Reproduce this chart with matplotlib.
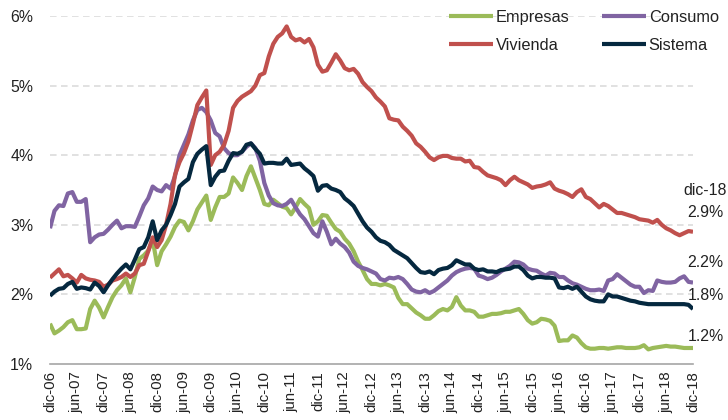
import numpy as np
import matplotlib
matplotlib.use("Agg")
import matplotlib.pyplot as plt
from matplotlib import font_manager

# ---------------- data ----------------
tick_labels = ["dic-06", "jun-07", "dic-07", "jun-08", "dic-08", "jun-09", "dic-09",
               "jun-10", "dic-10", "jun-11", "dic-11", "jun-12", "dic-12", "jun-13",
               "dic-13", "jun-14", "dic-14", "jun-15", "dic-15", "jun-16", "dic-16",
               "jun-17", "dic-17", "jun-18", "dic-18"]

empresas = [
    1.58, 1.44, 1.48, 1.53, 1.60, 1.63, 1.50, 1.50, 1.51, 1.79, 1.91, 1.81, 1.67, 1.82, 1.96, 2.06, 2.13, 2.23, 2.03, 2.25, 2.51, 2.56, 2.63, 2.78, 2.42,
    2.62, 2.72, 2.83, 2.97, 3.06, 3.04, 2.92, 3.05, 3.22, 3.32, 3.42, 3.07, 3.25, 3.40, 3.40, 3.45, 3.68, 3.60, 3.50, 3.70, 3.84, 3.67, 3.50, 3.30,
    3.28, 3.36, 3.31, 3.26, 3.24, 3.15, 3.25, 3.37, 3.30, 3.24, 3.00, 3.05, 3.14, 3.13, 3.03, 2.94, 2.90, 2.80, 2.73, 2.62, 2.47, 2.35, 2.22, 2.15,
    2.15, 2.13, 2.15, 2.13, 2.10, 1.95, 1.86, 1.86, 1.80, 1.74, 1.70, 1.65, 1.65, 1.70, 1.76, 1.79, 1.77, 1.82, 1.96, 1.84, 1.77, 1.77, 1.75, 1.68, 1.68,
    1.70, 1.72, 1.72, 1.73, 1.75, 1.75, 1.77, 1.79, 1.72, 1.63, 1.58, 1.60, 1.65, 1.64, 1.62, 1.55, 1.33, 1.34, 1.34, 1.41, 1.38, 1.30, 1.24, 1.22, 1.22, 1.23,
    1.23, 1.22, 1.23, 1.24, 1.24, 1.23, 1.23, 1.23, 1.24, 1.27, 1.21, 1.23, 1.24, 1.25, 1.26, 1.25, 1.25, 1.24, 1.23, 1.23, 1.23,
]

consumo = [
    2.95, 3.20, 3.28, 3.27, 3.45, 3.47, 3.33, 3.33, 3.37, 2.75, 2.82, 2.86, 2.87, 2.93, 3.00, 3.06, 2.95, 2.98, 2.98, 2.97, 3.12, 3.28, 3.38, 3.55, 3.50,
    3.48, 3.57, 3.52, 3.70, 4.00, 4.15, 4.30, 4.50, 4.65, 4.68, 4.62, 4.50, 4.32, 4.27, 4.10, 4.03, 4.00, 4.00, 4.05, 4.12, 4.17, 4.10, 3.92, 3.60,
    3.42, 3.31, 3.28, 3.27, 3.30, 3.36, 3.25, 3.15, 3.08, 2.98, 2.88, 2.83, 3.05, 2.90, 2.72, 2.80, 2.73, 2.68, 2.60, 2.47, 2.41, 2.38, 2.36, 2.33,
    2.30, 2.22, 2.20, 2.24, 2.23, 2.25, 2.22, 2.15, 2.07, 2.04, 2.03, 2.06, 2.02, 2.05, 2.10, 2.15, 2.20, 2.27, 2.32, 2.35, 2.37, 2.38, 2.37, 2.27, 2.25,
    2.22, 2.24, 2.28, 2.33, 2.37, 2.41, 2.47, 2.46, 2.43, 2.37, 2.35, 2.34, 2.30, 2.27, 2.31, 2.30, 2.25, 2.25, 2.20, 2.16, 2.14, 2.11, 2.08, 2.06, 2.06, 2.07,
    2.05, 2.20, 2.22, 2.29, 2.24, 2.19, 2.14, 2.11, 2.11, 2.02, 2.06, 2.05, 2.20, 2.18, 2.17, 2.17, 2.18, 2.23, 2.26, 2.18, 2.17,
]

vivienda = [
    2.24, 2.30, 2.36, 2.26, 2.28, 2.23, 2.17, 2.28, 2.23, 2.21, 2.20, 2.18, 2.11, 2.14, 2.20, 2.22, 2.25, 2.30, 2.25, 2.30, 2.42, 2.44, 2.62, 2.82, 2.68,
    2.78, 3.00, 3.30, 3.72, 3.90, 4.03, 4.20, 4.45, 4.72, 4.83, 4.93, 3.86, 4.00, 4.05, 4.15, 4.35, 4.68, 4.78, 4.84, 4.88, 4.92, 5.00, 5.15, 5.18,
    5.42, 5.60, 5.70, 5.75, 5.85, 5.70, 5.65, 5.67, 5.62, 5.67, 5.55, 5.30, 5.20, 5.22, 5.33, 5.45, 5.36, 5.25, 5.22, 5.24, 5.17, 5.05, 4.98, 4.92,
    4.83, 4.77, 4.70, 4.53, 4.51, 4.50, 4.41, 4.35, 4.28, 4.17, 4.12, 4.05, 3.97, 3.93, 3.97, 3.99, 3.99, 3.96, 3.95, 3.95, 3.91, 3.92, 3.83, 3.82, 3.76,
    3.71, 3.69, 3.67, 3.64, 3.57, 3.64, 3.69, 3.64, 3.61, 3.58, 3.53, 3.55, 3.56, 3.58, 3.61, 3.52, 3.49, 3.47, 3.44, 3.40, 3.47, 3.51, 3.40, 3.37, 3.31, 3.25,
    3.30, 3.27, 3.22, 3.17, 3.17, 3.15, 3.13, 3.11, 3.08, 3.07, 3.06, 3.03, 3.07, 3.00, 2.95, 2.92, 2.88, 2.85, 2.88, 2.91, 2.90,
]

sistema = [
    1.98, 2.04, 2.08, 2.09, 2.15, 2.18, 2.08, 2.10, 2.09, 2.07, 2.17, 2.12, 2.03, 2.13, 2.22, 2.30, 2.37, 2.43, 2.36, 2.50, 2.65, 2.68, 2.82, 3.05, 2.78,
    2.92, 3.00, 3.14, 3.30, 3.55, 3.61, 3.66, 3.90, 4.02, 4.08, 4.13, 3.57, 3.69, 3.77, 3.78, 3.92, 4.03, 4.02, 4.05, 4.15, 4.17, 4.09, 4.02, 3.88,
    3.89, 3.89, 3.88, 3.88, 3.95, 3.86, 3.87, 3.88, 3.81, 3.76, 3.70, 3.49, 3.56, 3.57, 3.52, 3.50, 3.47, 3.38, 3.33, 3.27, 3.16, 3.05, 2.96, 2.90,
    2.82, 2.77, 2.75, 2.71, 2.64, 2.60, 2.56, 2.52, 2.45, 2.38, 2.32, 2.31, 2.33, 2.29, 2.35, 2.37, 2.38, 2.42, 2.49, 2.46, 2.43, 2.43, 2.37, 2.35, 2.36,
    2.33, 2.33, 2.32, 2.35, 2.36, 2.37, 2.40, 2.40, 2.35, 2.27, 2.23, 2.25, 2.25, 2.24, 2.24, 2.23, 2.10, 2.09, 2.11, 2.08, 2.11, 2.04, 1.97, 1.93, 1.91, 1.90,
    1.90, 2.00, 1.97, 1.97, 1.95, 1.93, 1.91, 1.90, 1.88, 1.87, 1.86, 1.86, 1.86, 1.86, 1.86, 1.86, 1.86, 1.86, 1.86, 1.85, 1.79,
]

series_names = ["Empresas", "Consumo", "Vivienda", "Sistema"]
series_values = [empresas, consumo, vivienda, sistema]
series_colors = ["#9BBB59", "#8064A2", "#C0504D", "#05283F"]
last_label = "dic-18"

# ---------------- style ----------------
avail = {f.name for f in font_manager.fontManager.ttflist}
fam = [f for f in ["Liberation Sans Narrow", "Arial Narrow", "Liberation Sans", "DejaVu Sans"] if f in avail]
plt.rcParams["font.family"] = fam
narrow = fam[0] in ("Liberation Sans Narrow", "Arial Narrow")
k = 1.0 if narrow else 0.82  # scale sizes so text widths match a condensed face

W, H = 728, 420
fig = plt.figure(figsize=(W / 100, H / 100), dpi=100)
ax = fig.add_axes([50 / W, 1 - 364 / H, (693 - 50) / W, (364 - 16) / H])

n = len(sistema)
lines = []
for name, vals, col in zip(series_names, series_values, series_colors):
    (ln,) = ax.plot(np.arange(len(vals)), vals, color=col, lw=3.0, label=name,
                    solid_joinstyle="round", solid_capstyle="butt", zorder=3)
    lines.append(ln)

ax.set_xlim(0, n - 1)
ax.set_ylim(1, 6)
ax.set_yticks([1, 2, 3, 4, 5, 6])
ax.set_yticklabels([f"{v}%" for v in [1, 2, 3, 4, 5, 6]], fontsize=14 * k, color="#222222")
ax.set_xticks(np.arange(0, n, 6))
ax.set_xticklabels(tick_labels, rotation=90, fontsize=13.2 * k, color="#222222")
ax.tick_params(axis="both", length=0)
ax.tick_params(axis="y", pad=12)
ax.tick_params(axis="x", pad=5)

for s in ["left", "right", "top"]:
    ax.spines[s].set_visible(False)
ax.spines["bottom"].set_color("#a6a6a6")
ax.spines["bottom"].set_linewidth(1.2)

for v in [2, 3, 4, 5, 6]:
    ax.axhline(v, color="#d9d9d9", lw=1.1, dashes=(4.3, 2.9), zorder=1)

lfs = 14.4 * k
lpx = lfs * 100 / 72
order = [0, 2, 1, 3]
leg = ax.legend([lines[i] for i in order], [series_names[i] for i in order],
                ncol=2, loc="upper left", bbox_to_anchor=(449 / W, 1 - 10 / H),
                bbox_transform=fig.transFigure, frameon=False, fontsize=lfs,
                handlelength=44 / lpx, handletextpad=3 / lpx, columnspacing=32 / lpx,
                labelspacing=0.8, borderpad=0, borderaxespad=0)
for t in leg.get_texts():
    t.set_color("#222222")

# end-of-series labels
afs = 14 * k
offsets = {"Vivienda": 13.7, "Consumo": 14.4, "Sistema": 9.4, "Empresas": 8.0}
for name, vals in zip(series_names, series_values):
    ax.annotate(f"{vals[-1]:.1f}%", xy=(len(vals) - 1, vals[-1]), xytext=(9, offsets[name]),
                textcoords="offset points", ha="center", va="center", fontsize=afs,
                color="#222222", annotation_clip=False)
ax.annotate(last_label, xy=(len(vivienda) - 1, vivienda[-1]), xytext=(9, 30),
            textcoords="offset points", ha="center", va="center", fontsize=afs,
            color="#222222", annotation_clip=False)

fig.savefig("out.png", dpi=100)
